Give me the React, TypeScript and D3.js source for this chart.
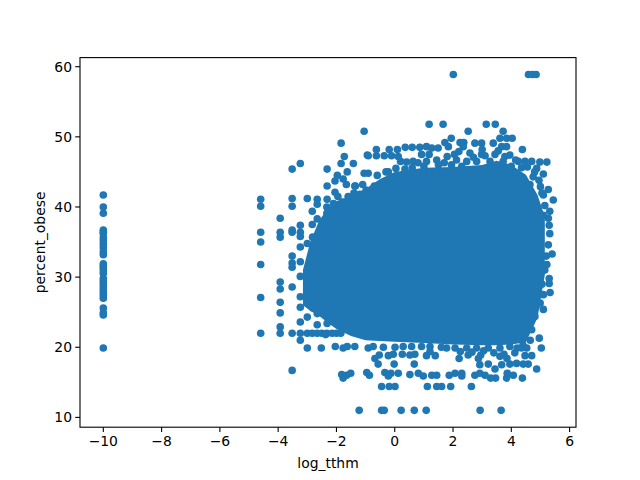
import React from "react";
import * as d3 from "d3";

const xTickValues = [-10, -8, -6, -4, -2, 0, 2, 4, 6];
const yTickValues = [10, 20, 30, 40, 50, 60];

// Points that sit apart at x = -10
const missingColumnY = [41.7, 40, 39.1, 36.7, 36.4, 36.2, 35.6, 35.2, 34.7, 34.2, 33.6, 33.2, 31.9, 31.6, 31.3, 30.9, 30.5, 29.8, 29.4, 29, 28.6, 28.2, 27.8, 27.4, 27, 25.6, 24.9, 24.6, 19.9];

// Individually readable points around the edge of the cloud: [log_tthm, percent_obese]
const leftPoints: [number, number][] = [
  [-4.6, 41.1], [-4.6, 40.1], [-4.6, 36.4], [-4.6, 35], [-4.6, 31.8], [-4.6, 27.1], [-4.6, 22],
  [-3.93, 38.4], [-3.93, 36.4], [-3.93, 35.7], [-3.93, 29.3], [-3.93, 28.3], [-3.93, 26.4], [-3.93, 24.9], [-3.93, 22.9], [-3.93, 22],
  [-3.52, 45.4], [-3.52, 41.2], [-3.52, 40.1], [-3.52, 36.7], [-3.52, 36.4], [-3.52, 33], [-3.52, 32], [-3.52, 31.4], [-3.52, 28.6], [-3.52, 22], [-3.52, 16.7],
  [-3.24, 46.2], [-3.24, 37.4], [-3.24, 36.4], [-3.24, 35.8], [-3.24, 34.3], [-3.24, 32.2], [-3.24, 30.1], [-3.24, 27.2], [-3.24, 25.7], [-3.24, 23.6], [-3.24, 22], [-3.24, 21],
  [-3, 41.2], [-3, 34.8], [-3, 24.3], [-3, 22], [-3, 19.9],
  [-2.83, 39.4], [-2.83, 37.5], [-2.82, 35.7], [-2.81, 25.6], [-2.83, 22],
  [-2.66, 41.1], [-2.66, 40.4], [-2.66, 38.3], [-2.66, 24.8], [-2.66, 23.2], [-2.66, 22],
  [-2.52, 19.9], [-2.5, 22], [-2.37, 21.8], [-2.32, 45.4], [-2.32, 43], [-2.32, 41.1], [-2.33, 40], [-2.33, 39.1], [-2.32, 24.7], [-2.32, 23.4], [-2.33, 22],
  [-2.15, 22], [-2.05, 43.7], [-2.05, 42.1], [-2.04, 20.1], [-2, 22], [-1.97, 44.5], [-1.95, 41.5],
  [-1.85, 22], [-1.84, 49.1], [-1.84, 46.2], [-1.82, 16.1], [-1.77, 44], [-1.77, 19.9], [-1.77, 15.6], [-1.73, 47.2], [-1.66, 43.2], [-1.65, 16], [-1.63, 45], [-1.63, 20.1], [-1.51, 16.3],
  [-1.42, 46.2], [-1.37, 20.1], [-1.37, 43], [-1.35, 43], [-1.22, 11],
  [-1.05, 50.8], [-1.05, 44.8], [-0.98, 42.4], [-0.96, 16.4], [-0.94, 47.4], [-0.91, 47.3], [-0.91, 44.8], [-0.91, 19.9], [-0.87, 16],
  [-1.6, 41.5], [-1.4, 42], [-1.2, 41.8], [-1.8, 40.7], [-2.1, 40.5], [-0.7, 43], [-0.4, 43.5], [-0.8, 41.9], [-0.3, 45], [-1.1, 43.2],
];

const topPoints: [number, number][] = [
  [2.01, 58.9], [4.59, 58.9], [4.73, 58.9], [4.85, 58.9],
  [1.18, 51.8], [1.66, 51.8], [3.14, 51.8], [3.45, 51.8], [2.52, 50.8], [3.72, 50.8],
  [1.94, 49.8], [3.61, 49.8], [3.84, 49.8], [4.03, 49.8], [1.72, 49.2], [2.24, 49.2], [2.37, 49.2], [2.75, 49.1], [2.98, 49.1], [3.38, 49.1],
  [3.67, 48.6], [3.84, 48.6], [4.38, 48.2], [-0.63, 48.2], [-0.19, 48.2], [0.09, 48.2], [0.36, 48.5], [0.6, 48.5], [0.86, 48.5], [1.09, 48.6], [1.27, 48.4], [1.49, 48.4], [1.84, 48.6], [2.35, 48.6],
  [2.58, 47.7], [-0.63, 47.3], [-0.36, 47.3], [-0.11, 47.3], [0.12, 47.2], [0.92, 47.5], [1.18, 47.5], [1.8, 47.2], [2.98, 47.5], [3.44, 47.5], [3.78, 47.2],
  [4.24, 46.5], [4.47, 46.5], [4.7, 46.5], [4.98, 46.4], [5.22, 46.4], [0.41, 46.4], [0.63, 46.5], [1.09, 46.5], [1.44, 46.7], [2.12, 46.7], [2.47, 46.5], [2.81, 46.5], [3.27, 46.5], [3.72, 46.5], [1.95, 46], [4, 45.8],
  [-0.6, 44.5], [-0.22, 45], [0.04, 45.5], [0.35, 45.4], [0.75, 44.8], [1.21, 45], [1.66, 45], [4.87, 45.5], [5.1, 44.7], [4.75, 44.3], [4.64, 43.2], [5, 42.9], [5.27, 42.5], [5.1, 41.7], [5.44, 41], [5.15, 40.2], [5.32, 39.4], [5.27, 38.4], [5.3, 37.4], [5.32, 36.2], [5.27, 34.6],
  [0.6, 45.6], [1, 45.8], [1.5, 46], [2.3, 45.8], [2.7, 47.1], [3.1, 47.3], [3.55, 48], [3.95, 47.4], [4.15, 46.7], [4.35, 45.6], [4.55, 45.7], [4.8, 45], [4.95, 43.8], [5.05, 42], [5.1, 38.8],
  [0.2, 46.5], [0.8, 46.3], [1.7, 46.3], [2.05, 47.5], [2.2, 47.9], [3, 48.2],
];

const rightPoints: [number, number][] = [
  [5.4, 33.3], [5.15, 31], [5.3, 29.8], [5.3, 29.1], [5.33, 27.8], [5.1, 27.5], [4.99, 26.3], [5.1, 25.4], [4.81, 24.4], [4.7, 22.5], [4.96, 21.3], [5.03, 19.9], [4.53, 19.9], [4.87, 16.9], [4.7, 18.8], [4.47, 18.8], [4.58, 17.6], [4.41, 17.6], [4.38, 15.6],
  [5.2, 33], [5.22, 31.8], [5.05, 29], [4.9, 27.4], [4.85, 25.8], [4.65, 21],
];

const bottomPoints: [number, number][] = [
  [4.07, 16], [3.84, 15.6], [3.86, 16.3], [4.18, 17.7], [3.95, 17.6], [3.67, 17.5], [3.44, 16.9], [3.46, 15.6], [3.29, 15.6], [3.1, 16], [2.75, 16], [2.92, 17.5], [3.21, 17.6], [2.92, 16.3], [3.61, 18.7], [4.12, 19.2], [3.95, 20.1], [4.35, 19.9], [2.87, 18.4], [2.52, 18.9], [2.21, 18.4],
  [2.3, 16.3], [2.3, 15.9], [2.07, 16.3], [1.87, 16], [1.44, 16], [1.27, 16], [0.98, 15.9], [0.81, 16.3], [0.52, 16.1], [0.12, 16.3], [-0.13, 16.3], [-0.34, 16.4], [-0.22, 15.9],
  [0.67, 17.6], [-0.02, 17.6], [-0.57, 17.6], [-0.53, 18.9], [-0.68, 18.4], [-0.22, 18.8], [-0.05, 19], [0.26, 19], [0.52, 18.9], [0.69, 19], [1.09, 18.8], [1.39, 18.8],
  [-0.74, 20.1], [-0.39, 20], [0.01, 20], [0.29, 20.1], [0.58, 20.1], [0.92, 20.1], [1.21, 20.1], [1.21, 19.4], [1.78, 19.9], [2.07, 19.9], [2.47, 19.9], [2.81, 19.9], [3.21, 19.9], [3.61, 19.9],
  [1.6, 20], [2.25, 19.4], [2.65, 19.3], [2.95, 18.9], [3.05, 19.5], [3.4, 19.2], [3.75, 19], [3.85, 18.4], [4.2, 19.9], [4.4, 20.3],
  [-0.45, 14.4], [-0.19, 14.4], [0.01, 14.4], [1.12, 14.4], [1.44, 14.4], [1.61, 14.4], [1.92, 14.4], [2.63, 14.4],
  [-0.45, 11], [-0.36, 11], [0.22, 11], [0.67, 11], [1.08, 11], [2.93, 11], [3.65, 11],
];

// The core holds thousands of overlapping markers that merge into one solid shape;
// single points cannot be read there, so its outline is read off the picture instead.
const coreX = [-3.15, -2.9, -2.6, -2.3, -2, -1.5, -1, -0.5, 0, 1, 2, 3, 3.5, 4, 4.5, 4.9, 5.15];
const coreUpper = [31, 35, 38, 39.8, 40.8, 41.6, 42.6, 44, 45, 45.6, 45.7, 46, 46.6, 46, 44.6, 41.7, 38.6];
const coreLower = [26, 25.2, 24.5, 23.5, 22.6, 21.6, 21, 20.9, 20.8, 20.6, 20.4, 20.3, 20.3, 20.4, 20.7, 24.2, 30.3];

const BLUE = "#1f77b4";
const FONT = "'DejaVu Sans', sans-serif";

export default function App() {
  const x = d3.scaleLinear().domain([-10.8, 6.22]).range([80, 576]);
  const y = d3.scaleLinear().domain([8.6, 61.3]).range([427.2, 57.6]);
  const core = d3
    .area<number>()
    .x((d) => x(d))
    .y0((_, i) => y(coreLower[i]))
    .y1((_, i) => y(coreUpper[i]));
  const points: [number, number][] = [
    ...missingColumnY.map((v): [number, number] => [-10, v]),
    ...leftPoints,
    ...topPoints,
    ...rightPoints,
    ...bottomPoints,
  ];
  const fmt = (v: number) => (v < 0 ? "\u2212" + Math.abs(v) : String(v));
  return (
    <svg width={640} height={480} style={{ position: "absolute", left: 0, top: 0, background: "#fff" }} fontFamily={FONT}>
      <path d={core(coreX) ?? ""} fill={BLUE} />
      {points.map(([a, b], i) => (
        <circle key={i} cx={x(a)} cy={y(b)} r={3.8} fill={BLUE} />
      ))}
      <rect x={80} y={57.6} width={496} height={369.6} fill="none" stroke="#000" strokeWidth={1.1} />
      {xTickValues.map((t) => (
        <g key={t}>
          <line x1={x(t)} x2={x(t)} y1={427.2} y2={432} stroke="#000" strokeWidth={1.1} />
          <text x={x(t)} y={446} textAnchor="middle" fontSize={13.9}>{fmt(t)}</text>
        </g>
      ))}
      {yTickValues.map((t) => (
        <g key={t}>
          <line x1={75.2} x2={80} y1={y(t)} y2={y(t)} stroke="#000" strokeWidth={1.1} />
          <text x={72} y={y(t) + 5} textAnchor="end" fontSize={13.9}>{t}</text>
        </g>
      ))}
      <text x={328} y={468} textAnchor="middle" fontSize={13.9}>log_tthm</text>
      <text transform="translate(45,242.4) rotate(-90)" textAnchor="middle" fontSize={13.9}>percent_obese</text>
    </svg>
  );
}
